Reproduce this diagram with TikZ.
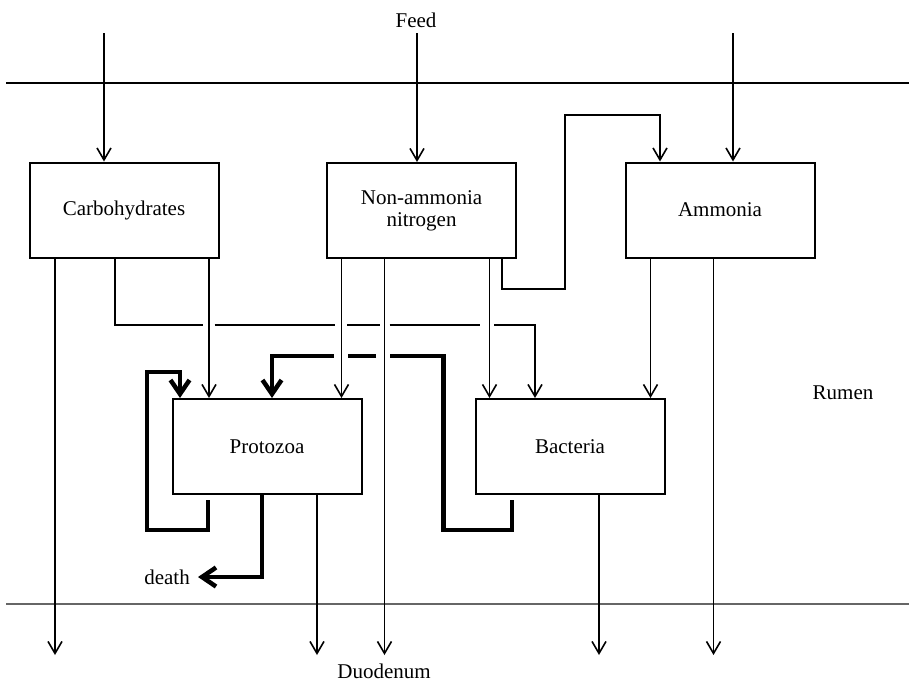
\documentclass[tikz,border=0pt]{standalone}
\usepackage{fontspec}
\setmainfont{Liberation Serif}
\usetikzlibrary{arrows.meta,calc}
\begin{document}
\begin{tikzpicture}[x=1pt,y=-1pt,
  box/.style={draw,line width=2pt,minimum width=189pt,minimum height=95pt,inner sep=0pt,align=center,font=\fontsize{21}{22}\selectfont},
  lbl/.style={inner sep=0pt,font=\fontsize{21}{22}\selectfont},
  fline/.style={line width=1.6pt},
  flow/.style={fline,-{Straight Barb[length=12pt,width=14pt]}},
  bold/.style={line width=4.5pt},
  boldflow/.style={bold,-{Straight Barb[length=14pt,width=19pt]}}
]
\useasboundingbox (0,0) rectangle (909,681);

% boxes
\node[box] (carb) at (124,210) {Carbohydrates};
\node[box] (nan) at (421.5,210.5) {Non-ammonia\\nitrogen};
\node[box] (amm) at (720,210) {Ammonia};
\node[box] (proto) at (267,446.5) {Protozoa};
\node[box] (bact) at (570,446.5) {Bacteria};

% labels
\node[lbl] (feed) at (416,20) {Feed};
\node[lbl] (duo) at (384,671) {Duodenum};
\node[lbl] (rumen) at (843,393) {Rumen};
\node[lbl,anchor=east] (death) at (190,577) {death};

% boundaries
\coordinate (tl) at (6,82.5);
\coordinate (tr) at (909,82.5);
\coordinate (bl) at (6,604);
\coordinate (br) at (909,604);
\draw[line width=2pt] (tl) -- (tr);
\draw[line width=1.2pt,black!60] (bl) -- (br);

% feed inputs
\coordinate (f1) at (104,33);
\coordinate (f2) at (417,33);
\coordinate (f3) at (733,33);
\draw[flow] (f1) -- (f1 |- carb.north);
\draw[flow] (f2) -- (f2 |- nan.north);
\draw[flow] (f3) -- (f3 |- amm.north);

% outflows to duodenum
\coordinate (d1) at (55,655);
\coordinate (d2) at (317,655);
\coordinate (d3) at (384.5,655);
\coordinate (d4) at (599,655);
\coordinate (d5) at (713.5,655);
\draw[flow] (carb.south -| d1) -- (d1);
\draw[flow] (proto.south -| d2) -- (d2);
\draw[flow] (nan.south -| d3) -- (d3);
\draw[flow] (bact.south -| d4) -- (d4);
\draw[flow] (amm.south -| d5) -- (d5);

% direct flows
\draw[flow] (carb.south -| 209,0) -- (proto.north -| 209,0);
\draw[flow] (nan.south -| 341.5,0) -- (proto.north -| 341.5,0);
\draw[flow] (nan.south -| 489.5,0) -- (bact.north -| 489.5,0);
\draw[flow] (amm.south -| 650.5,0) -- (bact.north -| 650.5,0);

% carbohydrates -> bacteria (with crossing gaps)
\draw[fline] (carb.south -| 115,0) |- (203,325);
\draw[fline] (214.5,325) -- (334.5,325);
\draw[fline] (347,325) -- (379.5,325);
\draw[fline] (389.5,325) -- (480,325);
\draw[flow] (494,325) -| (bact.north -| 535,0);

% non-ammonia nitrogen -> ammonia
\draw[flow] (nan.south -| 502,0) |- (565,289) |- (660,115) -- (amm.north -| 660,0);

% bacteria -> protozoa (bold, with crossing gaps)
\draw[bold] ($(bact.south -| 512,0)+(0,5)$) |- (443.5,530) |- (390,356);
\draw[bold] (376,356) -- (348,356);
\draw[boldflow] (333.5,356) -| (proto.north -| 272,0);

% protozoa recycling
\draw[boldflow] ($(proto.south -| 208,0)+(0,5)$) |- (147,530) |- (180,372) -- (proto.north -| 180,0);

% protozoa death
\draw[boldflow] (proto.south -| 262,0) |- ([xshift=8pt]death.east);
\end{tikzpicture}
\end{document}
